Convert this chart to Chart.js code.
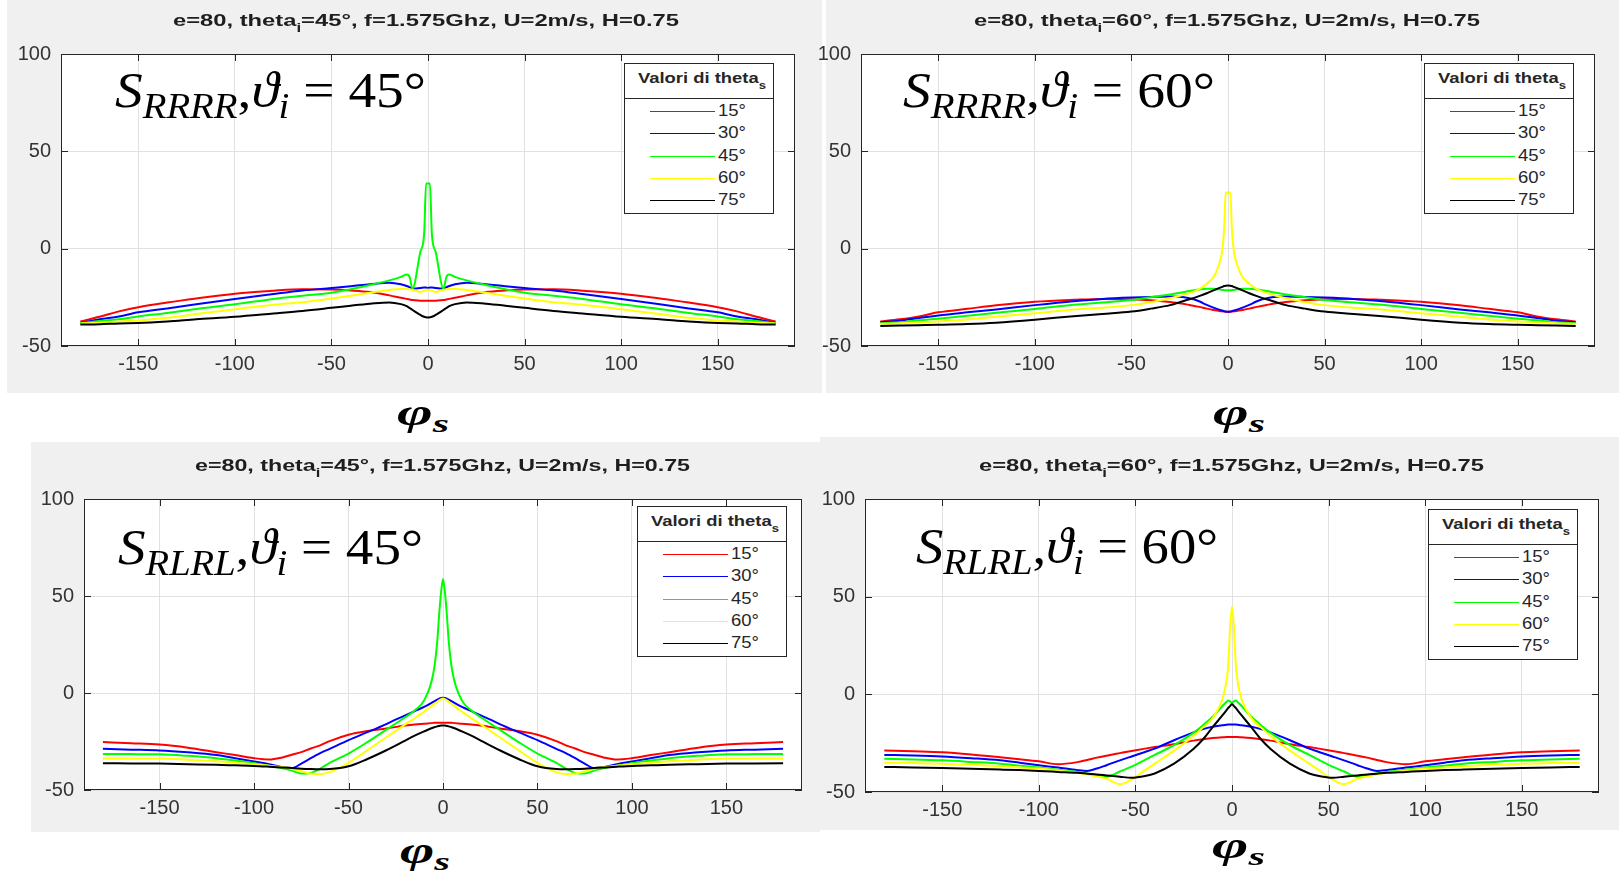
<!DOCTYPE html>
<html>
<head>
<meta charset="utf-8">
<title>S RRRR / S RLRL</title>
<script src="https://cdn.jsdelivr.net/npm/chart.js@4.4.1/dist/chart.umd.min.js"></script>
<style>
  html, body { margin: 0; padding: 0; background: #fff; }
  body { position: relative; width: 1619px; height: 877px; overflow: hidden; font-family: "Liberation Sans", Arial, sans-serif; color: #262626; }
  .bg { position: absolute; background: #f0f0f0; }
  canvas { position: absolute; }
  .fit { position: absolute; white-space: nowrap; transform-origin: 0 0; line-height: normal; }
  .title { font-weight: bold; font-size: 17px; color: #1e1e1e; }
  .title sub { font-size: 12px; vertical-align: -6px; line-height: 0; }
  .legend { position: absolute; background: #fff; border: 1px solid #262626; box-sizing: border-box; }
  .legend .sep { position: absolute; left: 0; right: 0; top: 34px; border-top: 1px solid #262626; }
  .legend .head { font-weight: bold; font-size: 15.5px; }
  .legend .head sub { font-size: 11px; vertical-align: -6px; line-height: 0; }
  .legend .lab { font-size: 17px; }
  .legend .ln { position: absolute; height: 0; border-top: 1.6px solid; }
  .note { font-family: "Liberation Serif", "DejaVu Serif", serif; font-size: 50px; color: #000; }
  .note sub { font-size: 35px; vertical-align: -11px; line-height: 0; font-style: italic; }
  .phi { font-family: "Liberation Serif", "DejaVu Serif", serif; font-size: 38px; font-weight: bold; font-style: italic; color: #000; }
  .phi sub { font-size: 26px; vertical-align: -7px; line-height: 0; }
</style>
</head>
<body>
<script>
// ---- data ----
const thetaS = ['15°', '30°', '45°', '60°', '75°'];
const xTicks = [-150, -100, -50, 0, 50, 100, 150];
const yTicks = [-50, 0, 50, 100];

// S_RRRR, theta_i = 45
const phiRRRR45 = [-180,-170,-160,-150,-135,-120,-100,-80,-65,-50,-40,-30,-20,-14,-11,-9.5,-8,-4,-2,-1,0,1,2,4,8,9.5,11,14,20,30,40,50,65,80,100,120,135,150,160,170,180];
const rrrr45T15 = [-37.4,-35,-32.2,-30.1,-27.7,-25.6,-23.1,-21.6,-20.9,-21,-21.5,-22.3,-24,-25.2,-25.8,-26.1,-26.4,-26.7,-26.8,-26.8,-26.8,-26.8,-26.8,-26.7,-26.4,-26.1,-25.8,-25.2,-24,-22.3,-21.5,-21,-20.9,-21.6,-23.1,-25.6,-27.7,-30.1,-32.2,-35,-37.4];
const rrrr45T30 = [-38.2,-36.3,-34.8,-32.7,-30.7,-28.6,-25.9,-23.3,-21.5,-20.2,-19.3,-18.3,-17.5,-18.3,-19.2,-19.8,-20.5,-20.2,-19.9,-20,-20.2,-20,-19.9,-20.2,-20.5,-19.8,-19.2,-18.3,-17.5,-18.3,-19.3,-20.2,-21.5,-23.3,-25.9,-28.6,-30.7,-32.7,-34.8,-36.3,-38.2];
const rrrr45T45 = [-38.3,-37.2,-36.2,-34.8,-33,-31,-28.6,-25.8,-24.2,-22.7,-20.8,-18.7,-16.3,-14.5,-13.3,-14.6,-20.5,-1.8,7.6,33.5,33.5,33.5,7.6,-1.8,-20.5,-14.6,-13.3,-14.5,-16.3,-18.7,-20.8,-22.7,-24.2,-25.8,-28.6,-31,-33,-34.8,-36.2,-37.2,-38.3];
const rrrr45T60 = [-38.5,-38,-37.4,-36.9,-35.5,-33.6,-31.1,-28.8,-27.5,-25.6,-24.2,-22.7,-21.2,-20.7,-20.7,-20.9,-21.2,-22.2,-21.6,-21.2,-21,-21.2,-21.6,-22.2,-21.2,-20.9,-20.7,-20.7,-21.2,-22.7,-24.2,-25.6,-27.5,-28.8,-31.1,-33.6,-35.5,-36.9,-37.4,-38,-38.5];
const rrrr45T75 = [-39,-38.8,-38.4,-38.2,-37.4,-36.3,-35,-33.3,-32,-30.4,-29.3,-28.3,-27.6,-28.5,-29.5,-30.5,-31.5,-34,-35,-35.2,-35.3,-35.2,-35,-34,-31.5,-30.5,-29.5,-28.5,-27.6,-28.3,-29.3,-30.4,-32,-33.3,-35,-36.3,-37.4,-38.2,-38.4,-38.8,-39];

// S_RRRR, theta_i = 60
const phiRRRR60 = [-180,-170,-160,-150,-135,-120,-100,-80,-65,-50,-40,-30,-25,-20,-15,-11,-7.5,-5,-3,-2,-1.2,0,1.2,2,3,5,7.5,11,15,20,25,30,40,50,65,80,100,120,135,150,160,170,180];
const rrrr60T15 = [-37.4,-36.3,-34.8,-32.7,-30.9,-29.1,-27.3,-26.3,-25.8,-26,-26.5,-27.4,-28,-28.9,-29.9,-30.8,-31.5,-31.9,-32.2,-32.3,-32.4,-32.4,-32.4,-32.3,-32.2,-31.9,-31.5,-30.8,-29.9,-28.9,-28,-27.4,-26.5,-26,-25.8,-26.3,-27.3,-29.1,-30.9,-32.7,-34.8,-36.3,-37.4];
const rrrr60T30 = [-37.8,-37,-35.6,-34.3,-32.7,-31.2,-29,-27,-25.8,-25.1,-24.8,-24.6,-24.7,-25.5,-27,-28.9,-30.3,-31.2,-31.8,-32.1,-32.3,-32.4,-32.3,-32.1,-31.8,-31.2,-30.3,-28.9,-27,-25.5,-24.7,-24.6,-24.8,-25.1,-25.8,-27,-29,-31.2,-32.7,-34.3,-35.6,-37,-37.8];
const rrrr60T45 = [-38.3,-37.8,-36.8,-36,-34.5,-32.9,-31,-28.8,-27.6,-26.4,-25,-23.5,-22.7,-21.8,-21,-20.6,-20.6,-20.9,-21.2,-21.3,-21.4,-21.4,-21.4,-21.3,-21.2,-20.9,-20.6,-20.6,-21,-21.8,-22.7,-23.5,-25,-26.4,-27.6,-28.8,-31,-32.9,-34.5,-36,-36.8,-37.8,-38.3];
const rrrr60T60 = [-38.6,-38.3,-37.8,-37.4,-36.4,-35,-33.2,-31.2,-30.3,-29,-27.5,-25.5,-24.2,-22.8,-20.8,-18,-14.6,-9,-1,10,28.8,28.8,28.8,10,-1,-9,-14.6,-18,-20.8,-22.8,-24.2,-25.5,-27.5,-29,-30.3,-31.2,-33.2,-35,-36.4,-37.4,-37.8,-38.3,-38.6];
const rrrr60T75 = [-39.7,-39.5,-39.3,-39.1,-38.7,-38,-36.5,-34.7,-33.5,-32.3,-30.8,-29,-27.5,-26,-24.4,-22.9,-21.4,-20.4,-19.6,-19.2,-19,-18.9,-19,-19.2,-19.6,-20.4,-21.4,-22.9,-24.4,-26,-27.5,-29,-30.8,-32.3,-33.5,-34.7,-36.5,-38,-38.7,-39.1,-39.3,-39.5,-39.7];

// S_RLRL, theta_i = 45
const phiRLRL45 = [-180,-165,-150,-135,-120,-110,-100,-92,-85,-80,-75,-70,-65,-60,-50,-40,-30,-20,-15,-10,-5,-3,-2,-1,0,1,2,3,5,10,15,20,30,40,50,60,65,70,75,80,85,92,100,110,120,135,150,165,180];
const rlrl45T15 = [-25.3,-25.9,-26.6,-28.2,-30.5,-32,-33.6,-34.3,-33.2,-31.8,-30.5,-28.6,-27,-24.8,-21.5,-19.6,-18.3,-16.8,-16.2,-15.8,-15.4,-15.3,-15.3,-15.3,-15.3,-15.3,-15.3,-15.3,-15.4,-15.8,-16.2,-16.8,-18.3,-19.6,-21.5,-24.8,-27,-28.6,-30.5,-31.8,-33.2,-34.3,-33.6,-32,-30.5,-28.2,-26.6,-25.9,-25.3];
const rlrl45T30 = [-28.8,-29.2,-29.6,-30.6,-32,-33.6,-35.3,-36.7,-38.3,-38.7,-36.4,-33.6,-31,-28.8,-24.3,-20.2,-16,-11.5,-9.3,-7.2,-4.5,-3.4,-2.9,-2.5,-2.4,-2.5,-2.9,-3.4,-4.5,-7.2,-9.3,-11.5,-16,-20.2,-24.3,-28.8,-31,-33.6,-36.4,-38.7,-38.3,-36.7,-35.3,-33.6,-32,-30.6,-29.6,-29.2,-28.8];
const rlrl45T45 = [-31.4,-31.5,-31.6,-32.4,-33.6,-34.8,-36.2,-37.5,-38.8,-40,-41.5,-41.2,-39,-36,-31.2,-25.3,-18.9,-12.5,-9,-3.8,10.8,27,41,52,58.8,52,41,27,10.8,-3.8,-9,-12.5,-18.9,-25.3,-31.2,-36,-39,-41.2,-41.5,-40,-38.8,-37.5,-36.2,-34.8,-33.6,-32.4,-31.6,-31.5,-31.4];
const rlrl45T60 = [-33.7,-33.8,-33.8,-34.4,-35.2,-35.9,-36.7,-37.5,-38.2,-39,-40.3,-41.5,-41.8,-40.8,-36,-29.5,-22.8,-16.2,-13,-9.6,-6,-4.5,-3.8,-3.2,-2.8,-3.2,-3.8,-4.5,-6,-9.6,-13,-16.2,-22.8,-29.5,-36,-40.8,-41.8,-41.5,-40.3,-39,-38.2,-37.5,-36.7,-35.9,-35.2,-34.4,-33.8,-33.8,-33.7];
const rlrl45T75 = [-36.2,-36.3,-36.4,-36.7,-37,-37.3,-37.6,-38,-38.4,-38.7,-39,-39.2,-39.3,-39.2,-37.8,-34,-29.5,-24.5,-22,-19.8,-17.8,-17.2,-17,-16.8,-16.7,-16.8,-17,-17.2,-17.8,-19.8,-22,-24.5,-29.5,-34,-37.8,-39.2,-39.3,-39.2,-39,-38.7,-38.4,-38,-37.6,-37.3,-37,-36.7,-36.4,-36.3,-36.2];

// S_RLRL, theta_i = 60
const phiRLRL60 = [-180,-165,-150,-135,-120,-110,-100,-90,-80,-75,-70,-65,-58,-52,-45,-40,-30,-20,-15,-10,-5,-3,-2,-1,0,1,2,3,5,10,15,20,30,40,45,52,58,65,70,75,80,90,100,110,120,135,150,165,180];
const rlrl60T15 = [-28.8,-29.2,-29.7,-30.8,-32.2,-33.2,-34.3,-35.8,-34.7,-33.6,-32.4,-31.4,-30.1,-29,-27.8,-27,-25.5,-23.7,-23,-22.4,-22,-21.9,-21.8,-21.8,-21.8,-21.8,-21.8,-21.9,-22,-22.4,-23,-23.7,-25.5,-27,-27.8,-29,-30.1,-31.4,-32.4,-33.6,-34.7,-35.8,-34.3,-33.2,-32.2,-30.8,-29.7,-29.2,-28.8];
const rlrl60T30 = [-31,-31.3,-31.8,-32.7,-33.8,-35,-36.3,-37.5,-38.8,-39.2,-38,-36.3,-33.8,-31.8,-29.5,-27.8,-23.5,-19.5,-17.8,-16.6,-15.8,-15.6,-15.5,-15.5,-15.5,-15.5,-15.5,-15.6,-15.8,-16.6,-17.8,-19.5,-23.5,-27.8,-29.5,-31.8,-33.8,-36.3,-38,-39.2,-38.8,-37.5,-36.3,-35,-33.8,-32.7,-31.8,-31.3,-31];
const rlrl60T45 = [-33,-33.3,-33.8,-34.6,-35.5,-36.5,-37.5,-38.6,-39.7,-40.5,-41.4,-42.2,-39.5,-37,-33.5,-31,-26,-19.7,-15.8,-11.5,-6,-4,-3.2,-3.6,-4.3,-3.6,-3.2,-4,-6,-11.5,-15.8,-19.7,-26,-31,-33.5,-37,-39.5,-42.2,-41.4,-40.5,-39.7,-38.6,-37.5,-36.5,-35.5,-34.6,-33.8,-33.3,-33];
const rlrl60T60 = [-35,-35.2,-35.5,-36.1,-36.8,-37.4,-38,-39,-40.2,-41,-42,-43.2,-46,-43.5,-38.8,-35.5,-28.8,-21.3,-17,-12.2,-2.5,6,14.5,34,44.8,34,14.5,6,-2.5,-12.2,-17,-21.3,-28.8,-35.5,-38.8,-43.5,-46,-43.2,-42,-41,-40.2,-39,-38,-37.4,-36.8,-36.1,-35.5,-35.2,-35];
const rlrl60T75 = [-37.2,-37.4,-37.7,-38.1,-38.5,-38.8,-39.2,-39.7,-40.2,-40.6,-41,-41.5,-42.2,-42.7,-41.8,-40.5,-35.5,-28,-23,-16.8,-10.8,-8.3,-7,-6,-5,-6,-7,-8.3,-10.8,-16.8,-23,-28,-35.5,-40.5,-41.8,-42.7,-42.2,-41.5,-41,-40.6,-40.2,-39.7,-39.2,-38.8,-38.5,-38.1,-37.7,-37.4,-37.2];

// ---- style / layout ----
const lineColors = ['#ff0000', '#0000ff', '#00ff00', '#ffff00', '#000000'];

const panels = [
  { bg: [7, 0, 822, 393], plot: [61, 47, 795, 346], ti: '45', kind: 'RRRR',
    title: [426, 21, 506], legend: [624, 63], note: [115, 106, 311], phi: [397, 390, 52],
    phiData: phiRRRR45, series: [rrrr45T15, rrrr45T30, rrrr45T45, rrrr45T60, rrrr45T75] },
  { bg: [826, 0, 1619, 393], plot: [861, 47, 1595, 346], ti: '60', kind: 'RRRR',
    title: [1227, 21, 506], legend: [1424, 63], note: [903, 106, 312], phi: [1213, 390, 52],
    phiData: phiRRRR60, series: [rrrr60T15, rrrr60T30, rrrr60T45, rrrr60T60, rrrr60T75] },
  { bg: [31, 442, 820, 832], plot: [84, 492, 802, 790], ti: '45', kind: 'RLRL',
    title: [442, 466, 495], legend: [637, 506], note: [118, 563, 305], phi: [400, 828, 50],
    phiData: phiRLRL45, series: [rlrl45T15, rlrl45T30, rlrl45T45, rlrl45T60, rlrl45T75] },
  { bg: [820, 437, 1619, 830], plot: [865, 492, 1599, 792], ti: '60', kind: 'RLRL',
    title: [1231, 466, 505], legend: [1428, 509], note: [916, 562, 302], phi: [1212, 823, 53],
    phiData: phiRLRL60, series: [rlrl60T15, rlrl60T30, rlrl60T45, rlrl60T60, rlrl60T75] }
];

// stretch a text element horizontally so it spans the wanted width
function fitText(el, left, top, width) {
  el.style.left = left + 'px';
  el.style.top = top + 'px';
  const w = el.getBoundingClientRect().width;
  el.style.transform = 'scaleX(' + (width / w) + ')';
}

function addDiv(cls, html, parent) {
  const d = document.createElement('div');
  d.className = cls;
  d.innerHTML = html;
  (parent || document.body).appendChild(d);
  return d;
}

const matlabBox = {
  id: 'matlabBox',
  beforeDraw(chart) {
    const { ctx, chartArea: a } = chart;
    ctx.save();
    ctx.fillStyle = '#ffffff';
    ctx.fillRect(a.left, a.top, a.right - a.left, a.bottom - a.top);
    ctx.restore();
  },
  afterDraw(chart) {
    const { ctx, chartArea: a, scales } = chart;
    ctx.save();
    ctx.strokeStyle = '#262626';
    ctx.lineWidth = 1;
    ctx.strokeRect(Math.round(a.left) + 0.5, Math.round(a.top) + 0.5,
                   Math.round(a.right - a.left) - 1, Math.round(a.bottom - a.top) - 1);
    ctx.beginPath();
    xTicks.forEach(v => {
      const px = Math.round(scales.x.getPixelForValue(v)) + 0.5;
      ctx.moveTo(px, a.bottom); ctx.lineTo(px, a.bottom - 7);
      ctx.moveTo(px, a.top); ctx.lineTo(px, a.top + 7);
    });
    yTicks.forEach(v => {
      const py = Math.round(scales.y.getPixelForValue(v)) + 0.5;
      ctx.moveTo(a.left, py); ctx.lineTo(a.left + 7, py);
      ctx.moveTo(a.right, py); ctx.lineTo(a.right - 7, py);
    });
    ctx.stroke();
    ctx.restore();
  }
};

function drawPanel(p) {
  const [bx0, by0, bx1, by1] = p.bg;
  const bg = addDiv('bg', '');
  bg.style.left = bx0 + 'px'; bg.style.top = by0 + 'px';
  bg.style.width = (bx1 - bx0) + 'px'; bg.style.height = (by1 - by0) + 'px';

  const [L, T, R, B] = p.plot;
  const padL = 70, padT = 15, padR = 15, padB = 35;
  const canvas = document.createElement('canvas');
  canvas.width = R - L + padL + padR;
  canvas.height = B - T + padT + padB;
  canvas.style.left = (L - padL) + 'px';
  canvas.style.top = (T - padT) + 'px';
  document.body.appendChild(canvas);

  const tickFont = { family: 'Liberation Sans', size: 20 };
  new Chart(canvas, {
    type: 'line',
    data: {
      datasets: p.series.map((vals, i) => ({
        label: thetaS[i],
        data: p.phiData.map((x, j) => ({ x: x, y: vals[j] })),
        borderColor: lineColors[i],
        borderWidth: 2,
        pointRadius: 0,
        cubicInterpolationMode: 'monotone',
        fill: false,
        order: 4 - i
      }))
    },
    options: {
      responsive: false,
      animation: false,
      events: [],
      layout: { padding: { left: 0, top: padT, right: padR, bottom: 0 } },
      plugins: { legend: { display: false }, tooltip: { enabled: false }, title: { display: false } },
      scales: {
        x: {
          type: 'linear', min: -190, max: 190,
          afterBuildTicks: s => { s.ticks = xTicks.map(v => ({ value: v })); },
          afterFit: s => { s.height = padB; },
          grid: { color: '#e1e1e1', drawTicks: false },
          border: { display: false },
          ticks: { padding: 6, color: '#333333', font: tickFont, maxRotation: 0, autoSkip: false }
        },
        y: {
          type: 'linear', min: -50, max: 100,
          afterBuildTicks: s => { s.ticks = yTicks.map(v => ({ value: v })); },
          afterFit: s => { s.width = padL; },
          grid: { color: '#e1e1e1', drawTicks: false },
          border: { display: false },
          ticks: { padding: 10, color: '#333333', font: tickFont }
        }
      }
    },
    plugins: [matlabBox]
  });

  // title
  const t = addDiv('fit title', 'e=80, theta<sub>i</sub>=' + p.ti + '°, f=1.575Ghz, U=2m/s, H=0.75');
  fitText(t, p.title[0] - p.title[2] / 2, p.title[1] - 10, p.title[2]);

  // legend
  const [lx, ly] = p.legend;
  const lg = addDiv('legend', '<div class="sep"></div>');
  lg.style.left = lx + 'px'; lg.style.top = ly + 'px';
  lg.style.width = '150px'; lg.style.height = '151px';
  const head = addDiv('fit head', 'Valori di theta<sub>s</sub>', lg);
  fitText(head, 13, 5, 128);
  thetaS.forEach((lab, i) => {
    const yy = 48 + i * 22.3;
    const ln = addDiv('ln', '', lg);
    ln.style.left = '25px'; ln.style.width = '65px'; ln.style.top = (yy - 1) + 'px';
    ln.style.borderTopColor = lineColors[i];
    const tx = addDiv('fit lab', lab, lg);
    fitText(tx, 93, yy - 11, 28);
  });

  // large annotation
  const n = addDiv('fit note', '<i>S</i><sub>' + p.kind + '</sub>,<i>ϑ</i><sub>i</sub> = ' + p.ti + '°');
  fitText(n, p.note[0], p.note[1] - 45, p.note[2]);

  // x label
  const f = addDiv('fit phi', 'φ<sub>s</sub>');
  fitText(f, p.phi[0], p.phi[1], p.phi[2]);
}

panels.forEach(drawPanel);
</script>
</body>
</html>
